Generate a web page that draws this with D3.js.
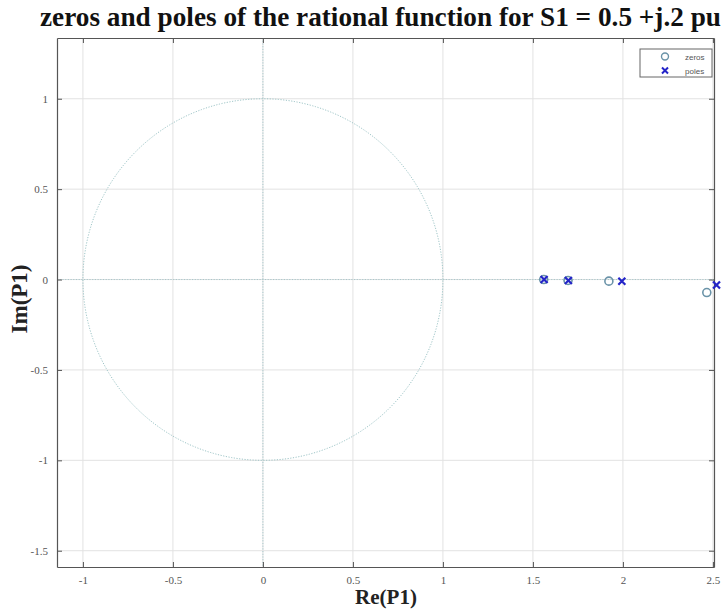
<!DOCTYPE html>
<html><head><meta charset="utf-8">
<script src="https://cdn.jsdelivr.net/npm/d3@7"></script>
<style>body{margin:0;background:#fff}</style>
</head><body>
<svg id="c" width="725" height="614"></svg>
<script>
const xTicks = [-1, -0.5, 0, 0.5, 1, 1.5, 2, 2.5];
const yTicks = [-1.5, -1, -0.5, 0, 0.5, 1];
const zerosRe = [1.56, 1.695, 1.922, 2.466];
const zerosIm = [0.0, -0.005, -0.009, -0.072];
const polesRe = [1.562, 1.697, 1.994, 2.52];
const polesIm = [0.0, -0.005, -0.009, -0.03];
const legendLabels = ["zeros", "poles"];

const svg = d3.select("#c");
const L = 57, R = 714, T = 38, B = 567;
const x = d3.scaleLinear().domain([-1.144, 2.506]).range([L, R]);
const y = d3.scaleLinear().domain([-1.59, 1.336]).range([B, T]);

// grid
const g = svg.append("g");
g.selectAll(".gx").data(xTicks).join("line")
  .attr("x1", d => x(d)).attr("x2", d => x(d)).attr("y1", T).attr("y2", B)
  .attr("stroke", "#e2e2e2").attr("stroke-width", 1);
g.selectAll(".gy").data(yTicks).join("line")
  .attr("y1", d => y(d)).attr("y2", d => y(d)).attr("x1", L).attr("x2", R)
  .attr("stroke", "#e2e2e2").attr("stroke-width", 1);

// unit circle and axes (dotted)
const th = d3.range(0, 361, 1).map(a => a * Math.PI / 180);
svg.append("path")
  .attr("d", d3.line().x(t => x(Math.cos(t))).y(t => y(Math.sin(t)))(th))
  .attr("fill", "none").attr("stroke", "#9fc6c8").attr("stroke-width", 1)
  .attr("stroke-dasharray", "1.2,1.5");
svg.append("line").attr("x1", x(0)).attr("x2", x(0)).attr("y1", T).attr("y2", B)
  .attr("stroke", "#a8c8cc").attr("stroke-dasharray", "1.2,1.5");
svg.append("line").attr("y1", y(0)).attr("y2", y(0)).attr("x1", L).attr("x2", R)
  .attr("stroke", "#a8c8cc").attr("stroke-dasharray", "1.2,1.5");

// axes with inward ticks
const tickFmt = d => String(d);
const ax = svg.append("g").attr("transform", `translate(0,${B})`)
  .call(d3.axisBottom(x).tickValues(xTicks).tickSizeInner(-5).tickSizeOuter(0).tickPadding(9).tickFormat(tickFmt));
const axT = svg.append("g").attr("transform", `translate(0,${T})`)
  .call(d3.axisTop(x).tickValues(xTicks).tickSizeInner(-5).tickSizeOuter(0).tickFormat(""));
const ay = svg.append("g").attr("transform", `translate(${L},0)`)
  .call(d3.axisLeft(y).tickValues(yTicks).tickSizeInner(-5).tickSizeOuter(0).tickPadding(9).tickFormat(tickFmt));
const ayR = svg.append("g").attr("transform", `translate(${R},0)`)
  .call(d3.axisRight(y).tickValues(yTicks).tickSizeInner(-5).tickSizeOuter(0).tickFormat(""));
[ax, axT, ay, ayR].forEach(a => {
  a.select(".domain").attr("stroke", "#555").attr("stroke-width", 1.2);
  a.selectAll(".tick line").attr("stroke", "#555");
  a.selectAll("text").attr("fill", "#555").attr("font-family", "Liberation Serif, serif").attr("font-size", 11);
});

// zeros
svg.selectAll(".z").data(zerosRe).join("circle")
  .attr("cx", d => x(d)).attr("cy", (d, i) => y(zerosIm[i])).attr("r", 4)
  .attr("fill", "none").attr("stroke", "#6a93a8").attr("stroke-width", 1.6);
// poles
const xs = 3.5;
svg.selectAll(".p").data(polesRe).join("path")
  .attr("d", (d, i) => {
    const cx = x(d), cy = y(polesIm[i]);
    return `M${cx-xs},${cy-xs}L${cx+xs},${cy+xs}M${cx-xs},${cy+xs}L${cx+xs},${cy-xs}`;
  })
  .attr("stroke", "#2424c8").attr("stroke-width", 2.2).attr("fill", "none");

// legend
const lg = svg.append("g");
lg.append("rect").attr("x", 640).attr("y", 49).attr("width", 72).attr("height", 28)
  .attr("fill", "#fff").attr("stroke", "#666").attr("stroke-width", 1);
lg.append("circle").attr("cx", 665).attr("cy", 56.5).attr("r", 3.5)
  .attr("fill", "none").attr("stroke", "#6a93a8").attr("stroke-width", 1.4);
lg.append("path").attr("d", `M662,67.5L668,73.5M662,73.5L668,67.5`)
  .attr("stroke", "#2424c8").attr("stroke-width", 2);
lg.selectAll("text").data(legendLabels).join("text")
  .attr("x", 685).attr("y", (d, i) => 59.5 + i * 14)
  .attr("font-family", "Liberation Sans, sans-serif").attr("font-size", 8).attr("fill", "#555")
  .text(d => d);

// title and labels
svg.append("text").attr("x", 40).attr("y", 26)
  .attr("font-family", "Liberation Serif, serif").attr("font-weight", "bold").attr("font-size", 27)
  .attr("textLength", 681).attr("lengthAdjust", "spacingAndGlyphs")
  .attr("fill", "#111").text("zeros and poles of the rational function for S1 = 0.5 +j.2 pu");
svg.append("text").attr("x", 386).attr("y", 604).attr("text-anchor", "middle")
  .attr("font-family", "Liberation Serif, serif").attr("font-weight", "bold").attr("font-size", 21)
  .attr("fill", "#222").text("Re(P1)");
svg.append("text").attr("transform", "translate(27,299) rotate(-90)").attr("text-anchor", "middle")
  .attr("font-family", "Liberation Serif, serif").attr("font-weight", "bold").attr("font-size", 23)
  .attr("fill", "#222").text("Im(P1)");
</script>
</body></html>
